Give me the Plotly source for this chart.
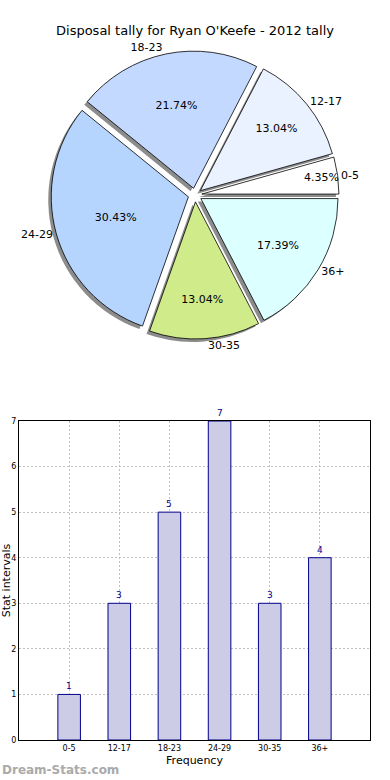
import plotly.graph_objects as go

categories = ["0-5", "12-17", "18-23", "24-29", "30-35", "36+"]
counts = [1, 3, 5, 7, 3, 4]
slice_colors = ["#ffffff", "#eaf1ff", "#c4d9ff", "#b5d5ff", "#d0eb8a", "#dcffff"]
y_ticks = [0, 1, 2, 3, 4, 5, 6, 7]

W, H = 390, 780
FONT = "DejaVu Sans"

# pie geometry (pixels)
cx, cy, rad = 195, 195, 144
def dom(cx, cy, r):
    return dict(x=[(cx - r) / W, (cx + r) / W], y=[(H - cy - r) / H, (H - cy + r) / H])

# first slice starts at 3 o'clock and runs counterclockwise
start_rot = 90 - 360 * counts[0] / sum(counts)
pull = [0.05] * len(counts)
common = dict(labels=categories, values=counts, sort=False, direction="counterclockwise",
              rotation=start_rot, pull=pull, showlegend=False)

fig = go.Figure()
# shadow
fig.add_trace(go.Pie(**common, domain=dom(cx - 3, cy + 3, rad),
                     marker=dict(colors=["rgba(0,0,0,0.45)"] * len(counts), line=dict(width=0)),
                     textinfo="none", hoverinfo="skip"))
# main slices with percentages
fig.add_trace(go.Pie(**common, domain=dom(cx, cy, rad),
                     marker=dict(colors=slice_colors, line=dict(color="black", width=0.8)),
                     texttemplate="%{percent:.2%}", textposition="inside",
                     insidetextorientation="horizontal",
                     insidetextfont=dict(family=FONT, size=11, color="black")))
# outside labels
fig.add_trace(go.Pie(**common, domain=dom(cx, cy, rad),
                     marker=dict(colors=["rgba(0,0,0,0)"] * len(counts), line=dict(width=0)),
                     textinfo="label", textposition="outside",
                     outsidetextfont=dict(family=FONT, size=11, color="black"),
                     hoverinfo="skip"))

# bar chart
fig.add_trace(go.Bar(x=categories, y=counts, width=0.45,
                     marker=dict(color="#ccccE6", line=dict(color="#00008b", width=1)),
                     showlegend=False, xaxis="x", yaxis="y"))

bar_labels = [dict(x=c, y=v, text=str(v), xref="x", yref="y", showarrow=False,
                   yanchor="bottom", yshift=1, font=dict(size=9, color="#00008b", family=FONT))
              for c, v in zip(categories, counts)]

grid = dict(showgrid=True, gridcolor="#c0c0c0", griddash="2px,2px", gridwidth=1)

fig.update_layout(
    width=W, height=H,
    margin=dict(l=0, r=0, t=0, b=0, autoexpand=False),
    paper_bgcolor="white", plot_bgcolor="white",
    font=dict(family=FONT, color="black"),
    uniformtext=dict(mode="show", minsize=11),
    title=dict(text="Disposal tally for Ryan O'Keefe - 2012 tally", x=0.5, xanchor="center",
               y=1 - 30 / H, yanchor="middle", yref="container", font=dict(size=13, family=FONT)),
    xaxis=dict(domain=[19 / W, 370 / W], range=[-1, 6], type="category", automargin=False,
               **grid, showline=True, linecolor="black", mirror=True, ticks="",
               tickfont=dict(size=8), title=dict(text="Frequency", font=dict(size=11), standoff=4),
               anchor="y", fixedrange=True),
    yaxis=dict(domain=[(H - 740) / H, (H - 421) / H], range=[0, 7], tickvals=y_ticks, automargin=False,
               **grid, showline=True, linecolor="black", mirror=True, zeroline=False,
               tickfont=dict(size=8), title=dict(text="Stat intervals", font=dict(size=11), standoff=0),
               anchor="x", fixedrange=True),
    annotations=bar_labels + [dict(text="<b>Dream-Stats.com</b>", x=0, xanchor="left", y=(H - 770) / H,
                      yanchor="middle", xref="paper", yref="paper", showarrow=False,
                      font=dict(size=12, color="#aaaaaa", family=FONT))],
)

fig.write_html("out.html", config={"displayModeBar": False},
               post_script="document.body.style.margin='0';document.body.style.padding='0';")
